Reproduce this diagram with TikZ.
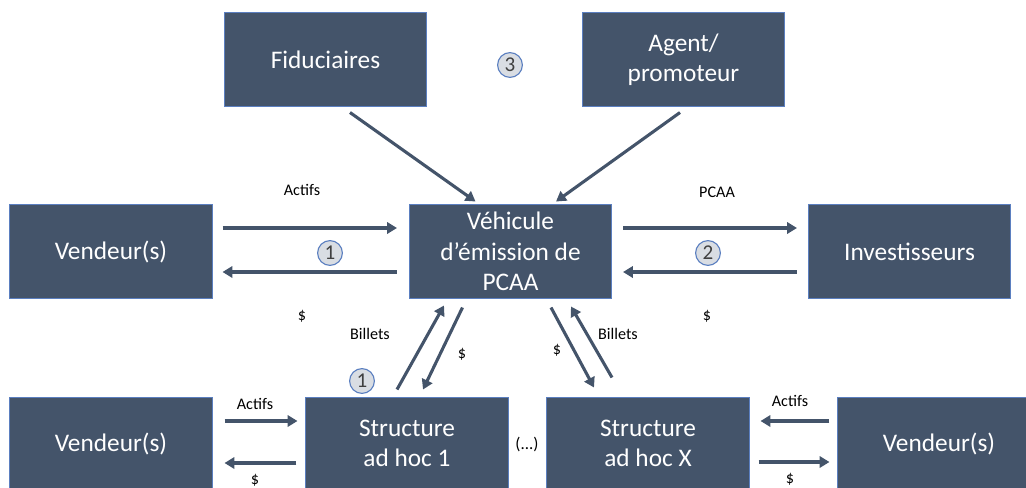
\documentclass[tikz,border=0pt]{standalone}
\usepackage{fontspec}
\setmainfont{Carlito}
\usetikzlibrary{calc,arrows.meta}
\definecolor{boxfill}{HTML}{44546A}
\definecolor{boxline}{HTML}{5B7FC0}
\definecolor{arrcol}{HTML}{44546A}
\definecolor{circfill}{HTML}{D9DDE3}
\definecolor{circline}{HTML}{5B7FC0}
\definecolor{numcol}{HTML}{404040}
\begin{document}
\begin{tikzpicture}[x=0.025cm,y=-0.025cm,
  box/.style={draw=boxline,line width=0.7pt,fill=boxfill,text=white,
    minimum width=5.05cm,minimum height=2.325cm,inner sep=0pt,align=center,
    font=\fontsize{18}{21.5}\selectfont},
  topbox/.style={box,minimum width=5.025cm,minimum height=2.325cm},
  arr/.style={draw=arrcol,line width=2.2pt,-{Triangle[length=7pt,width=8pt]}},
  lbl/.style={font=\fontsize{11.5}{13}\selectfont,text=black,inner sep=0pt},
  num/.style={circle,draw=circline,line width=0.8pt,fill=circfill,text=numcol,
    minimum size=0.62cm,inner sep=0pt,font=\fontsize{15}{15}\selectfont}]
\useasboundingbox (0,0) rectangle (1026,487);
% top row
\node[topbox] (fid) at (325.5,59.5) {Fiduciaires};
\node[topbox] (ag) at (683.5,59.5) {Agent/\\promoteur};
\node[num] (n3) at (510,65) {3};
% middle row
\node[box] (v1) at (111,251.5) {Vendeur(s)};
\node[box] (veh) at (510.5,251.5) {Véhicule\\d’émission de\\PCAA};
\node[box] (inv) at (909.5,251.5) {Investisseurs};
% bottom row
\node[box] (v2) at (111,443.5) {Vendeur(s)};
\node[box] (sa1) at (407,443.5) {Structure\\ad hoc 1};
\node[box] (sax) at (648,443.5) {Structure\\ad hoc X};
\node[box] (v3) at (939,443.5) {Vendeur(s)};
\node[lbl,font=\fontsize{12}{14}\selectfont] (dots) at (527,444) {(...)};
% top arrows
\draw[arr] ($(fid.south)+(24.5,6)$) -- ($(veh.north)+(-35,-3)$);
\draw[arr] ($(ag.south)+(-3.5,6)$) -- ($(veh.north)+(45.5,-3)$);
% middle left
\draw[arr] ($(v1.east)+(10,-23.5)$) -- ($(veh.west)+(-12,-23.5)$);
\draw[arr] ($(veh.west)+(-12,20.5)$) -- ($(v1.east)+(10,20.5)$);
\node[lbl] (la1) at (302,190) {Actifs};
\node[lbl] (ld1) at (302,316) {\$};
\node[num] (n1a) at (330,253) {1};
% middle right
\draw[arr] ($(veh.east)+(11,-23.5)$) -- ($(inv.west)+(-11,-23.5)$);
\draw[arr] ($(inv.west)+(-11,20.5)$) -- ($(veh.east)+(11,20.5)$);
\node[lbl] (lp) at (717,192) {PCAA};
\node[lbl] (ld2) at (707,316) {\$};
\node[num] (n2) at (708,253) {2};
% vertical-ish left
\draw[arr] ($(sa1.north)+(-10,-7)$) -- ($(veh.south)+(-66.5,7)$);
\draw[arr] ($(veh.south)+(-48,9)$) -- ($(sa1.north)+(16,-7)$);
\node[lbl] (lb1) at (370,334) {Billets};
\node[lbl] (ld3) at (462,354) {\$};
\node[num] (n1b) at (362,381) {1};
% vertical-ish right
\draw[arr] ($(veh.south)+(40.5,9)$) -- ($(sax.north)+(-54,-9)$);
\draw[arr] ($(sax.north)+(-36,-19)$) -- ($(veh.south)+(60.5,8)$);
\node[lbl] (lb2) at (618,334) {Billets};
\node[lbl] (ld4) at (557,350) {\$};
% bottom left
\draw[arr] ($(v2.east)+(12,-22.5)$) -- ($(sa1.west)+(-8,-22.5)$);
\draw[arr] ($(sa1.west)+(-9,19.5)$) -- ($(v2.east)+(12,19.5)$);
\node[lbl] (la2) at (255,404) {Actifs};
\node[lbl] (ld5) at (255,480) {\$};
% bottom right
\draw[arr] ($(v3.west)+(-8,-22.5)$) -- ($(sax.east)+(11,-22.5)$);
\draw[arr] ($(sax.east)+(9,18.5)$) -- ($(v3.west)+(-8,18.5)$);
\node[lbl] (la3) at (790,401) {Actifs};
\node[lbl] (ld6) at (790,479) {\$};
\end{tikzpicture}
\end{document}
